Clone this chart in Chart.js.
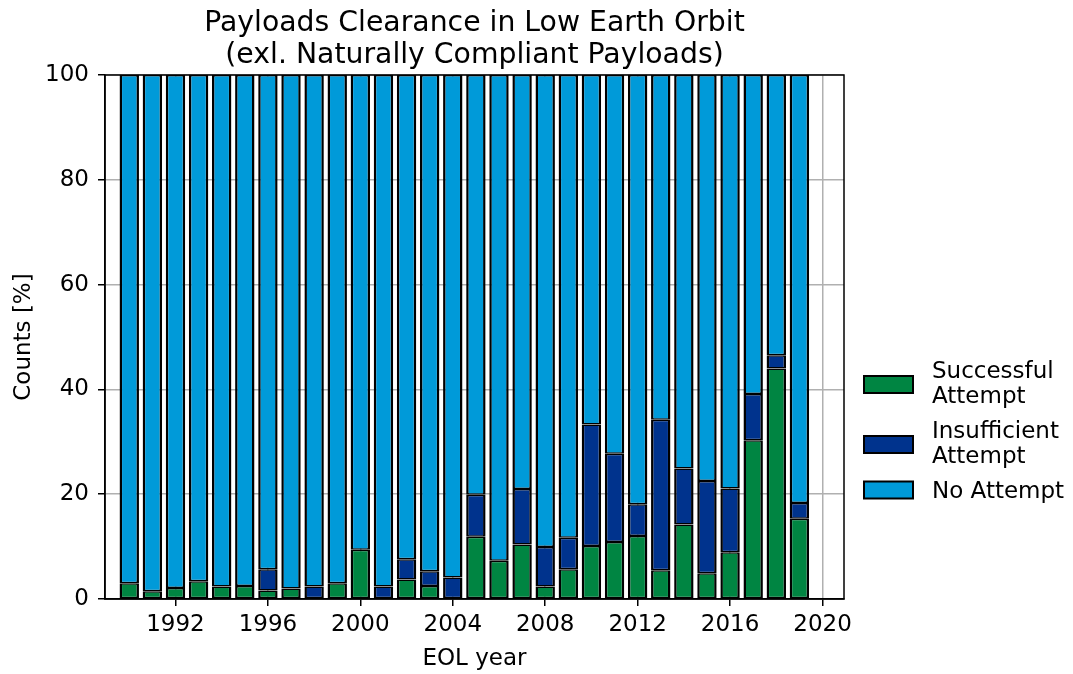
<!DOCTYPE html>
<html>
<head>
<meta charset="utf-8">
<script src="https://cdn.jsdelivr.net/npm/chart.js@4.4.1/dist/chart.umd.min.js"></script>
<style>
html,body{margin:0;padding:0;background:#fff;}
#wrap{width:1073px;height:674px;position:relative;}
</style>
</head>
<body>
<div id="wrap"><canvas id="c" width="1073" height="674"></canvas></div>
<script>
const years = [1990,1991,1992,1993,1994,1995,1996,1997,1998,1999,2000,2001,2002,2003,2004,2005,2006,2007,2008,2009,2010,2011,2012,2013,2014,2015,2016,2017,2018,2019];
const successful = [3.0,1.5,2.1,3.4,2.4,2.5,1.6,2.0,0,3.0,9.4,0,3.7,2.5,0,11.9,7.3,10.4,2.4,5.7,10.1,10.9,12.0,5.5,14.2,4.9,8.9,30.3,44.0,15.3];
const insufficient = [0,0,0,0,0,0,4.1,0,2.4,0,0,2.4,3.9,2.8,4.1,8.0,0,10.6,7.5,6.0,23.2,16.8,6.1,28.7,10.7,17.6,12.2,8.8,2.5,3.0];
const noAttempt = [97.0,98.5,97.9,96.6,97.6,97.5,94.3,98.0,97.6,97.0,90.6,97.6,92.4,94.7,95.9,80.1,92.7,79.0,90.1,88.3,66.7,72.3,81.9,65.8,75.1,77.5,78.9,60.9,53.5,81.7];
const xTicks = [1992,1996,2000,2004,2008,2012,2016,2020];
const yTicks = [0,20,40,60,80,100];
const seriesLabels = [["Successful","Attempt"],["Insufficient","Attempt"],["No Attempt"]];
const titleLines = ["Payloads Clearance in Low Earth Orbit","(exl. Naturally Compliant Payloads)"];
const xTitle = "EOL year";
const yTitle = "Counts [%]";

const colors = ["#008542","#00338d","#009ad9"];
const FONT = "'DejaVu Sans', Verdana, sans-serif";

function pts(arr){ return years.map((y,i)=>({x:y,y:arr[i]})); }

const decor = {
  id:'decor',
  afterDatasetsDraw(chart){
    const ctx = chart.ctx, a = chart.chartArea;
    ctx.save();
    ctx.strokeStyle = '#000';
    ctx.lineWidth = 1.5;
    ctx.strokeRect(a.left, a.top, a.right - a.left, a.bottom - a.top);
    ctx.restore();
  },
  afterDraw(chart){
    const ctx = chart.ctx, a = chart.chartArea;
    const cx = (a.left + a.right)/2;
    ctx.save();
    ctx.fillStyle = '#000';
    ctx.textAlign = 'center';
    ctx.textBaseline = 'alphabetic';
    ctx.font = "28.3px " + FONT;
    ctx.fillText(titleLines[0], cx, 31);
    ctx.fillText(titleLines[1], cx, 63);
    ctx.font = "23px " + FONT;
    ctx.fillText(xTitle, cx, 665);
    ctx.save();
    ctx.translate(30, (a.top + a.bottom)/2);
    ctx.rotate(-Math.PI/2);
    ctx.fillText(yTitle, 0, 0);
    ctx.restore();
    // legend
    const boxes = [384.5, 444.5, 490];
    chart.data.datasets.forEach((ds, i) => {
      const cy = boxes[i];
      ctx.fillStyle = ds.backgroundColor;
      ctx.fillRect(864, cy - 8.5, 49, 17);
      ctx.strokeStyle = '#000';
      ctx.lineWidth = 2;
      ctx.strokeRect(864, cy - 8.5, 49, 17);
      ctx.fillStyle = '#000';
      ctx.textAlign = 'left';
      const lines = seriesLabels[i];
      if (lines.length === 1) {
        ctx.fillText(lines[0], 932, cy + 8);
      } else {
        ctx.fillText(lines[0], 932, cy - 7);
        ctx.fillText(lines[1], 932, cy + 18);
      }
    });
    ctx.restore();
  }
};

new Chart(document.getElementById('c'), {
  type: 'bar',
  data: {
    datasets: [0,1,2].map(i => ({
      label: seriesLabels[i].join(' '),
      data: pts([successful, insufficient, noAttempt][i]),
      backgroundColor: colors[i],
      borderColor: '#000',
      borderWidth: {left: 2.5, right: 2.5, top: 1.5, bottom: 1.5},
      borderSkipped: false,
      barPercentage: 0.84,
      categoryPercentage: 1.0
    }))
  },
  options: {
    responsive: false,
    animation: false,
    events: [],
    layout: { padding: { top: 75, right: 229, left: 0, bottom: 0 } },
    plugins: { legend: { display: false }, title: { display: false }, tooltip: { enabled: false } },
    scales: {
      x: {
        type: 'linear',
        offset: false,
        stacked: true,
        min: 1988.95,
        max: 2020.93,
        afterBuildTicks(scale){ scale.ticks = xTicks.map(v => ({value: v})); },
        afterFit(scale){ scale.height = 75; },
        ticks: { color: '#000', font: { family: FONT, size: 23 }, padding: 5, maxRotation: 0, autoSkip: false,
                 callback: v => String(v) },
        grid: { color: '#b0b0b0', lineWidth: 1.5, tickColor: '#000', tickLength: 7, drawOnChartArea: true, offset: false },
        border: { display: true, color: '#000', width: 1.5 }
      },
      y: {
        stacked: true,
        min: 0,
        max: 100,
        afterBuildTicks(scale){ scale.ticks = yTicks.map(v => ({value: v})); },
        afterFit(scale){ scale.width = 105; },
        ticks: { color: '#000', font: { family: FONT, size: 23 }, padding: 9 },
        grid: { color: '#b0b0b0', lineWidth: 1.5, tickColor: '#000', tickLength: 7 },
        border: { display: true, color: '#000', width: 1.5 }
      }
    }
  },
  plugins: [decor]
});
</script>
</body>
</html>
